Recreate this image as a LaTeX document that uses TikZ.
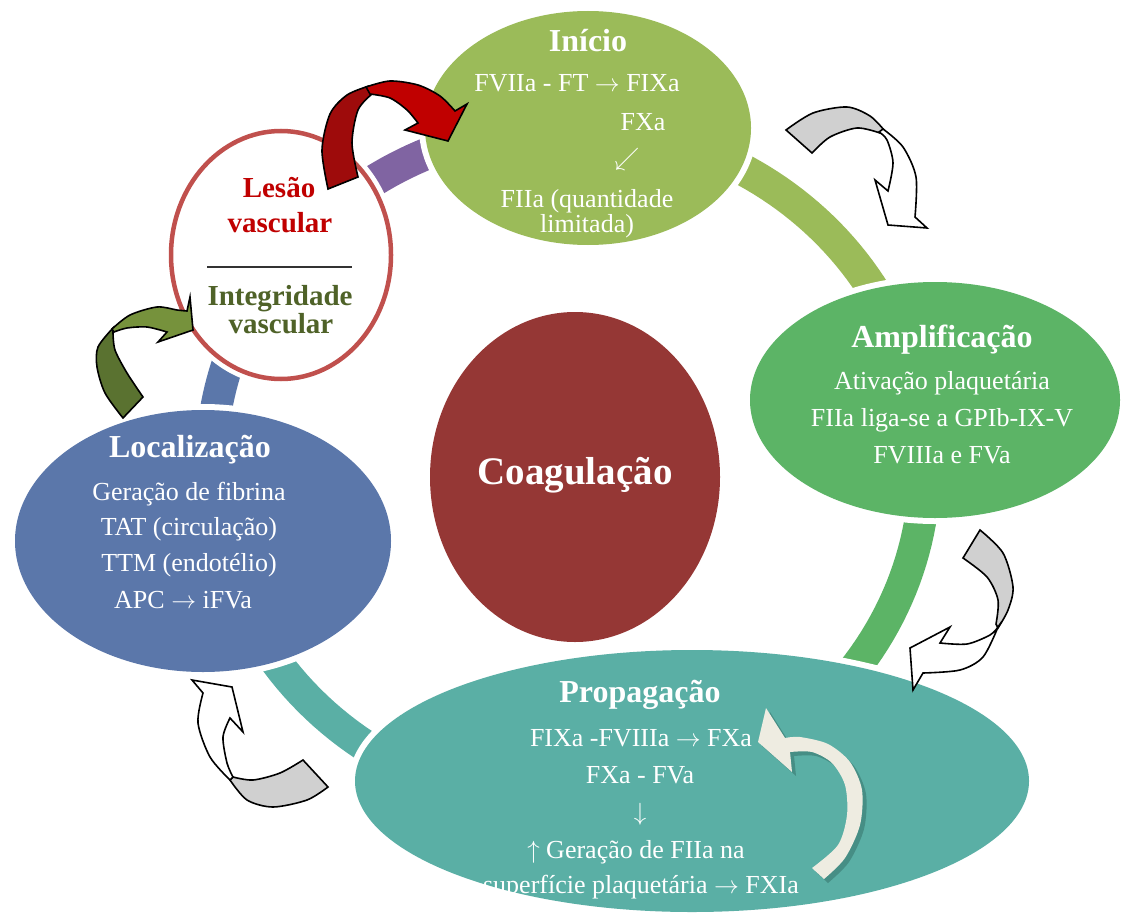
\documentclass[tikz,border=0pt]{standalone}
\usepackage{fontspec}
\setmainfont{Liberation Serif}
\usetikzlibrary{shapes.geometric}

\definecolor{cIni}{HTML}{9BBB59}
\definecolor{cAmp}{HTML}{5CB466}
\definecolor{cPro}{HTML}{5AAFA5}
\definecolor{cLoc}{HTML}{5B77AA}
\definecolor{cCoag}{HTML}{953735}
\definecolor{cPurple}{HTML}{8064A2}
\definecolor{cLesao}{HTML}{C0504D}
\definecolor{cRed}{HTML}{C00000}
\definecolor{cRedBack}{HTML}{9E0B0B}
\definecolor{cOlive}{HTML}{76923C}
\definecolor{cOliveBack}{HTML}{5A7230}
\definecolor{cOliveText}{HTML}{4F6228}
\definecolor{cGray}{HTML}{D0D0D0}
\definecolor{cCream}{HTML}{EEECE1}
\definecolor{cShadow}{HTML}{468E85}

\newcommand{\ra}{\ensuremath{\rightarrow}}

\tikzset{
  ring/.style={line width=32pt},
  stage/.style={ellipse, inner sep=0pt, draw=none,
    preaction={draw=white, line width=12pt}},
  txt/.style={text=white, font=\fontsize{26}{30}\selectfont, anchor=base, inner sep=0pt},
  headtxt/.style={text=white, font=\fontsize{32}{36}\selectfont\bfseries, anchor=base, inner sep=0pt},
  lesaotxt/.style={font=\fontsize{29}{32}\selectfont\bfseries, anchor=base, inner sep=0pt},
  outline/.style={draw=black, line width=1.6pt, line join=miter},
}

\begin{document}
\begin{tikzpicture}[x=1pt, y=-1pt]
\useasboundingbox (0,0) rectangle (1123,915);

% ring joining the stages
\draw[ring, cPurple] plot[domain=-143:-87, samples=40, variable=\t] ({568+357*cos(\t)},{466+340*sin(\t)});
\draw[ring, cIni]    plot[domain=-87:-10,  samples=50, variable=\t] ({568+357*cos(\t)},{466+340*sin(\t)});
\draw[ring, cAmp]    plot[domain=-10:70,   samples=50, variable=\t] ({568+357*cos(\t)},{466+340*sin(\t)});
\draw[ring, cPro]    plot[domain=70:168,   samples=60, variable=\t] ({568+357*cos(\t)},{466+340*sin(\t)});
\draw[ring, cLoc]    plot[domain=168:217,  samples=40, variable=\t] ({568+357*cos(\t)},{466+340*sin(\t)});

% stages
\node[stage, fill=cIni, minimum width=326pt, minimum height=234pt] (inicio) at (588,128) {};
\node[stage, fill=cAmp, minimum width=370pt, minimum height=236pt] (amplif) at (935,400) {};
\node[stage, fill=cPro, minimum width=674pt, minimum height=262pt] (propag) at (692,781) {};
\node[stage, fill=cLoc, minimum width=376pt, minimum height=262pt] (local) at (203,541) {};
\node[ellipse, inner sep=0pt, fill=cCoag, minimum width=290pt, minimum height=330pt] (coag) at (575,477) {};
\node[ellipse, inner sep=0pt, fill=white, draw=cLesao, line width=4.5pt,
      preaction={draw=white, line width=14pt},
      minimum width=220pt, minimum height=248pt] (lesao) at (281,255) {};

% texts: Início
\node[headtxt] (iniT) at (588,52) {Início};
\node[txt] (ini1) at (577,92) {FVIIa - FT \ra{} FIXa};
\node[txt] (ini2) at (643,130) {FXa};
\node[txt] (ini3) at (627,165) {\(\swarrow\)};
\node[txt] (ini4) at (587,207) {FIIa (quantidade};
\node[txt] (ini5) at (587,232) {limitada)};

% texts: Amplificação
\node[headtxt] (ampT) at (942,347) {Amplificação};
\node[txt] (amp1) at (942,389) {Ativação plaquetária};
\node[txt] (amp2) at (942,426) {FIIa liga-se a GPIb-IX-V};
\node[txt] (amp3) at (942,463) {FVIIIa e FVa};

% texts: Propagação
\node[headtxt] (proT) at (640,702) {Propagação};
\node[txt] (pro1) at (641,746) {FIXa -FVIIIa \ra{} FXa};
\node[txt] (pro2) at (640,783) {FXa - FVa};
\node[txt] (pro3) at (640,820) {\(\downarrow\)};
\node[txt] (pro4) at (636,858) {\(\uparrow\) Geração de FIIa na};
\node[txt] (pro5) at (641,893) {superfície plaquetária \ra{} FXIa};

% texts: Localização
\node[headtxt] (locT) at (190,457) {Localização};
\node[txt] (loc1) at (189,500) {Geração de fibrina};
\node[txt] (loc2) at (189,535) {TAT (circulação)};
\node[txt] (loc3) at (189,571) {TTM (endotélio)};
\node[txt] (loc4) at (183,608) {APC \ra{} iFVa};

% centre
\node[text=white, font=\fontsize{39}{43}\selectfont\bfseries, anchor=base, inner sep=0pt] (coagT) at (575,484) {Coagulação};

% vascular lesion / integrity
\node[lesaotxt, text=cRed] (les1) at (279,197) {Lesão};
\node[lesaotxt, text=cRed] (les2) at (280,232) {vascular};
\coordinate (divL) at (207,267);
\coordinate (divR) at (352,267);
\draw[line width=1.1pt, black!80] (divL) -- (divR);
\node[lesaotxt, text=cOliveText] (int1) at (280,305) {Integridade};
\node[lesaotxt, text=cOliveText] (int2) at (281,333) {vascular};

% red curved arrow: lesion -> início
\filldraw[outline, fill=cRedBack]
  plot[smooth] coordinates {(328,189) (322,150) (330,114) (347,95) (369,86)}
  -- plot[smooth] coordinates {(372,94) (358,110) (352,143) (358,177)} -- cycle;
\filldraw[outline, fill=cRed]
  plot[smooth] coordinates {(366,87) (390,81) (418,85) (440,96) (455,111)}
  -- (467,104) -- (448,141) -- (405,130)
  -- plot[smooth] coordinates {(418,123) (407,110) (390,98) (370,94)} -- cycle;

% green curved arrow: localização -> integridade
\filldraw[outline, fill=cOliveBack]
  plot[smooth] coordinates {(123,418) (105,393) (97,367) (98,347) (113,328)}
  -- plot[smooth] coordinates {(113,332) (115,350) (127,373) (143,397)} -- cycle;
\filldraw[outline, fill=cOlive]
  plot[smooth] coordinates {(112,329) (130,315) (157,307) (177,310) (187,311)}
  -- (190,297) -- (193,330) -- (158,342)
  -- plot[smooth] coordinates {(167,332) (147,327) (127,328) (114,332)} -- cycle;

% outlined arrows around the cycle
\filldraw[outline, fill=cGray]
  plot[smooth] coordinates {(786,130) (813,113) (847,107) (870,116) (884,130)}
  -- plot[smooth] coordinates {(880,133) (857,128) (830,137) (812,153)} -- cycle;
\filldraw[outline, fill=white]
  plot[smooth] coordinates {(883,129) (903,147) (916,177) (915,217)}
  -- (927,228) -- (888,225) -- (875,180)
  -- plot[smooth] coordinates {(888,191) (893,163) (887,140) (879,132)} -- cycle;

\filldraw[outline, fill=cGray]
  plot[smooth] coordinates {(980,530) (1003,553) (1013,587) (1008,610) (998,628)}
  -- plot[smooth] coordinates {(996,624) (998,600) (987,577) (963,558)} -- cycle;
\filldraw[outline, fill=white]
  plot[smooth] coordinates {(998,627) (983,657) (960,670) (923,673)}
  -- (913,690) -- (910,648) -- (950,627)
  -- plot[smooth] coordinates {(940,643) (967,644) (990,635) (998,627)} -- cycle;

\filldraw[outline, fill=cGray]
  plot[smooth] coordinates {(328,787) (307,800) (273,807) (247,800) (230,780)}
  -- plot[smooth] coordinates {(233,777) (253,780) (280,773) (303,760)} -- cycle;
\filldraw[outline, fill=white]
  plot[smooth] coordinates {(230,780) (210,757) (198,723) (203,693)}
  -- (192,680) -- (232,687) -- (243,732)
  -- plot[smooth] coordinates {(230,718) (223,737) (227,763) (233,777)} -- cycle;

% feedback arrow inside propagação, with its shadow
\begin{scope}[shift={(4,4)}]
\fill[cShadow]
  plot[smooth] coordinates {(824,879) (845,858) (860,825) (862,790) (850,762) (828,744) (800,737) (785,738)}
  -- (766,708) -- (758,742) -- (792,772)
  -- plot[smooth] coordinates {(790,752) (812,752) (832,763) (845,785) (847,815) (838,845) (812,868)} -- cycle;
\end{scope}
\fill[cCream]
  plot[smooth] coordinates {(824,879) (845,858) (860,825) (862,790) (850,762) (828,744) (800,737) (785,738)}
  -- (766,708) -- (758,742) -- (792,772)
  -- plot[smooth] coordinates {(790,752) (812,752) (832,763) (845,785) (847,815) (838,845) (812,868)} -- cycle;

\end{tikzpicture}
\end{document}
